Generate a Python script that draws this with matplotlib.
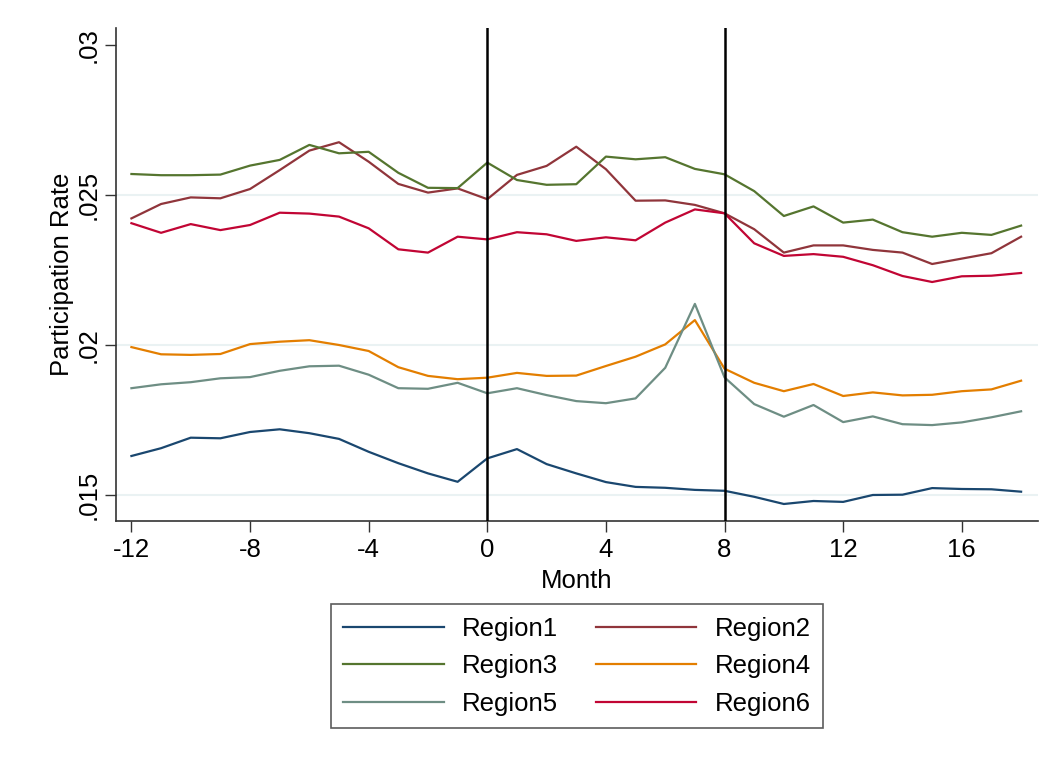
import numpy as np
import matplotlib.pyplot as plt

plt.rcParams['font.family'] = ['Liberation Sans', 'DejaVu Sans']

# ------------------------------------------------------------------
# Monthly participation rates by region (event time in months)
# ------------------------------------------------------------------
months = list(range(-12, 19))

region1 = [0.01630, 0.01656, 0.01691, 0.01689, 0.01710, 0.01719, 0.01706, 0.01687,
           0.01644, 0.01606, 0.01572, 0.01544, 0.01622, 0.01653, 0.01603, 0.01572,
           0.01543, 0.01527, 0.01524, 0.01517, 0.01514, 0.01494, 0.01470, 0.01480,
           0.01477, 0.01500, 0.01501, 0.01523, 0.01520, 0.01519, 0.01511]
region2 = [0.02422, 0.02470, 0.02492, 0.02489, 0.02520, 0.02583, 0.02648, 0.02676,
           0.02611, 0.02537, 0.02508, 0.02522, 0.02486, 0.02567, 0.02597, 0.02661,
           0.02586, 0.02481, 0.02482, 0.02467, 0.02439, 0.02386, 0.02308, 0.02332,
           0.02332, 0.02317, 0.02308, 0.02270, 0.02288, 0.02306, 0.02361]
region3 = [0.02570, 0.02566, 0.02566, 0.02568, 0.02598, 0.02617, 0.02667, 0.02639,
           0.02644, 0.02574, 0.02524, 0.02523, 0.02608, 0.02550, 0.02534, 0.02536,
           0.02628, 0.02619, 0.02626, 0.02587, 0.02569, 0.02513, 0.02430, 0.02462,
           0.02408, 0.02418, 0.02376, 0.02361, 0.02374, 0.02367, 0.02398]
region4 = [0.01993, 0.01969, 0.01967, 0.01970, 0.02003, 0.02011, 0.02016, 0.02000,
           0.01980, 0.01926, 0.01897, 0.01886, 0.01891, 0.01907, 0.01897, 0.01898,
           0.01930, 0.01961, 0.02002, 0.02083, 0.01921, 0.01874, 0.01846, 0.01870,
           0.01830, 0.01842, 0.01832, 0.01834, 0.01846, 0.01852, 0.01881]
region5 = [0.01856, 0.01869, 0.01876, 0.01889, 0.01893, 0.01914, 0.01929, 0.01931,
           0.01901, 0.01856, 0.01854, 0.01874, 0.01839, 0.01856, 0.01833, 0.01813,
           0.01806, 0.01822, 0.01924, 0.02137, 0.01892, 0.01803, 0.01761, 0.01800,
           0.01743, 0.01762, 0.01736, 0.01733, 0.01742, 0.01759, 0.01779]
region6 = [0.02406, 0.02374, 0.02403, 0.02383, 0.02400, 0.02441, 0.02438, 0.02428,
           0.02389, 0.02319, 0.02308, 0.02361, 0.02352, 0.02376, 0.02369, 0.02347,
           0.02359, 0.02349, 0.02408, 0.02452, 0.02439, 0.02339, 0.02297, 0.02303,
           0.02294, 0.02266, 0.02230, 0.02210, 0.02229, 0.02231, 0.02240]

series = [region1, region2, region3, region4, region5, region6]
labels = ['Region1', 'Region2', 'Region3', 'Region4', 'Region5', 'Region6']
# Stata s2color palette
colors = ['#1a476f', '#90353b', '#55752f', '#e37e00', '#6e8e84', '#c10534']

event_months = [0, 8]
yticks = [0.015, 0.02, 0.025, 0.03]
ytick_labels = ['.015', '.02', '.025', '.03']
xticks = [-12, -8, -4, 0, 4, 8, 12, 16]

FS = 18.5

fig = plt.figure(figsize=(10.53, 7.65), dpi=100)
ax = fig.add_axes([116 / 1053, 1 - 521 / 765, 922 / 1053, 493 / 765])

for y in yticks[:-1]:
    ax.axhline(y, color='#eaf2f3', linewidth=1.5, zorder=0)

handles = []
for s, lab, c in zip(series, labels, colors):
    h, = ax.plot(months, s, color=c, linewidth=1.6, label=lab, zorder=2)
    handles.append(h)

for m in event_months:
    ax.axvline(m, color='black', linewidth=1.8, zorder=3)

ax.set_xlim(-12.52, 18.57)
ax.set_ylim(0.014133, 0.030567)

ax.set_xticks(xticks)
ax.set_xticklabels([str(t) for t in xticks])
ax.set_yticks(yticks)
ax.set_yticklabels(ytick_labels, rotation=90, va='center')
ax.tick_params(axis='both', direction='out', length=8, width=1, labelsize=FS, color='#333333')
ax.tick_params(axis='y', pad=3)
ax.tick_params(axis='x', pad=4)

for side in ['top', 'right']:
    ax.spines[side].set_visible(False)
for side in ['left', 'bottom']:
    ax.spines[side].set_color('#333333')
    ax.spines[side].set_linewidth(1.2)

ax.set_xlabel('Month', fontsize=FS, labelpad=5)
ax.set_ylabel('Participation Rate', fontsize=FS, labelpad=2)

# legend fills row by row: Region1 | Region2, Region3 | Region4, ...
order = [0, 2, 4, 1, 3, 5]
leg = fig.legend([handles[i] for i in order], [labels[i] for i in order],
                 loc='upper center', bbox_to_anchor=(577 / 1053, 1 - 604 / 765),
                 ncol=2, fontsize=FS, frameon=True, fancybox=False,
                 handlelength=3.9, handletextpad=0.7, columnspacing=1.5,
                 labelspacing=0.52, borderpad=0.5, borderaxespad=0)
leg.get_frame().set_edgecolor('#333333')
leg.get_frame().set_linewidth(1.2)

fig.savefig('out.png', dpi=100)
